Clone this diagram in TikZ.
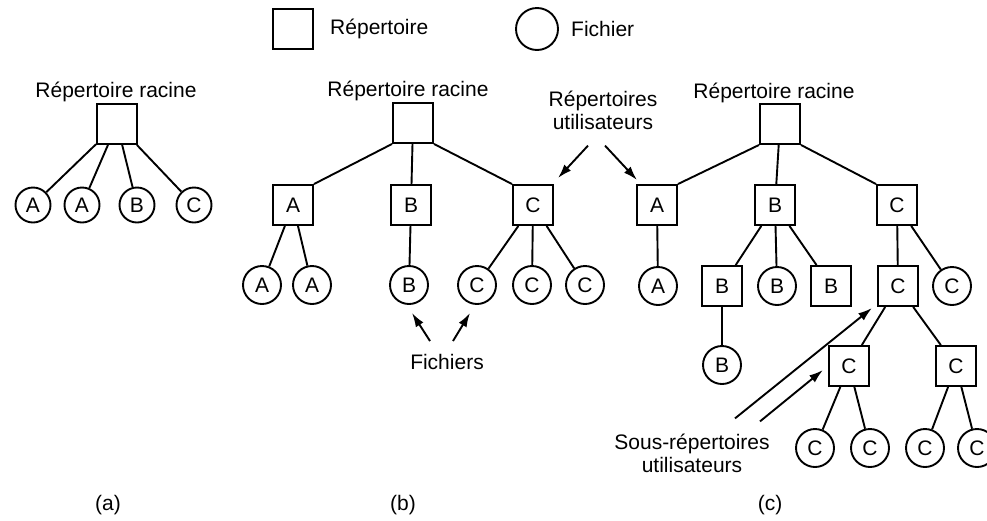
\documentclass[tikz,border=0pt]{standalone}
\usepackage{fontspec}
\setmainfont{Liberation Sans}
\usetikzlibrary{arrows.meta,positioning}

\begin{document}
\begin{tikzpicture}[x=1pt,y=-1pt,line width=1.9pt,
 font=\fontsize{21}{23}\selectfont,
 rep/.style={draw,minimum size=40pt,inner sep=0pt},
 fic/.style={draw,circle,minimum size=38pt,inner sep=0pt},
 ptr/.style={-{Latex[length=14pt,width=9pt]}}]
 \useasboundingbox (0,0) rectangle (987,520);
 % legend
 \node[rep] (lrep) at (293,29) {};
 \node[right=12pt of lrep] (lreptxt) {Répertoire};
 \node[fic,minimum size=42pt] (lfic) at (537,29) {};
 \node[right=8pt of lfic] (lfictxt) {Fichier};
 % (a) one level
 \node (rra) at (116,92) {Répertoire racine};
 \node[rep] (ra) at (117,124) {};
 \node[fic,minimum size=35pt] (ra1) at (33,205) {A};
 \node[fic,minimum size=35pt] (ra2) at (82,205) {A};
 \node[fic,minimum size=35pt] (ra3) at (137,205) {B};
 \node[fic,minimum size=35pt] (ra4) at (194,205) {C};
 \foreach \n in {ra1,ra2,ra3,ra4} \draw (ra)--(\n);
 \node (capa) at (108,505) {(a)};
 % (b) two levels
 \node (rrb) at (408,91) {Répertoire racine};
 \node[rep] (rb) at (413,123) {};
 \node[rep] (bA) at (293,205) {A};
 \node[rep] (bB) at (411,205) {B};
 \node[rep] (bC) at (533,205) {C};
 \node[fic] (bA1) at (262,285) {A};
 \node[fic] (bA2) at (312,285) {A};
 \node[fic] (bB1) at (409,285) {B};
 \node[fic] (bC1) at (477,285) {C};
 \node[fic] (bC2) at (532,285) {C};
 \node[fic] (bC3) at (585,285) {C};
 \draw (rb.south west)--(bA.north east); \draw (rb)--(bB);
 \draw (rb.south east)--(bC.north west);
 \draw (bA)--(bA1); \draw (bA)--(bA2); \draw (bB)--(bB1);
 \draw (bC)--(bC1); \draw (bC)--(bC2); \draw (bC)--(bC3);
 \node (fich) at (447,362) {Fichiers};
 \coordinate (fb) at (412,313);
 \coordinate (fc) at (470,313);
 \draw[ptr] ([xshift=-17pt,yshift=9pt]fich.north)--(fb);
 \draw[ptr] ([xshift=6pt,yshift=9pt]fich.north)--(fc);
 \node (capb) at (403,505) {(b)};
 % user directories
 \node[align=center] (util) at (603,110) {Répertoires\\utilisateurs};
 \coordinate (ub) at (558,178);
 \coordinate (uc) at (637,180);
 \draw[ptr] ([xshift=-15pt,yshift=-12pt]util.south)--(ub);
 \draw[ptr] ([xshift=2pt,yshift=-12pt]util.south)--(uc);
 % (c) arbitrary tree
 \node (rrc) at (774,93) {Répertoire racine};
 \node[rep] (rc) at (780,124) {};
 \node[rep] (cA) at (657,205) {A};
 \node[rep] (cB) at (775,205) {B};
 \node[rep] (cC) at (897,205) {C};
 \node[fic] (cA1) at (658,286) {A};
 \node[rep] (cB1) at (722,286) {B};
 \node[fic] (cB2) at (777,286) {B};
 \node[rep] (cB3) at (831,286) {B};
 \node[rep] (cC1) at (898,286) {C};
 \node[fic] (cC2) at (952,286) {C};
 \node[fic] (cB1a) at (722,365) {B};
 \node[rep] (cC1a) at (849,366) {C};
 \node[rep] (cC1b) at (956,366) {C};
 \node[fic] (cC1a1) at (815,448) {C};
 \node[fic] (cC1a2) at (870,448) {C};
 \node[fic] (cC1b1) at (925,448) {C};
 \node[fic] (cC1b2) at (977,448) {C};
 \draw (rc.south west)--(cA.north east); \draw (rc)--(cB);
 \draw (rc.south east)--(cC.north west);
 \draw (cA)--(cA1);
 \draw (cB)--(cB1); \draw (cB)--(cB2); \draw (cB)--(cB3);
 \draw (cC)--(cC1); \draw (cC)--(cC2);
 \draw (cB1)--(cB1a);
 \draw (cC1)--(cC1a); \draw (cC1)--(cC1b);
 \draw (cC1a)--(cC1a1); \draw (cC1a)--(cC1a2);
 \draw (cC1b)--(cC1b1); \draw (cC1b)--(cC1b2);
 \node[align=center] (sous) at (692,453) {Sous-répertoires\\utilisateurs};
 \coordinate (sc1) at (872,308);
 \coordinate (sc2) at (823,370);
 \draw[ptr] ([xshift=43pt,yshift=11pt]sous.north)--(sc1);
 \draw[ptr] ([xshift=68pt,yshift=8pt]sous.north)--(sc2);
 \node (capc) at (770,505) {(c)};
\end{tikzpicture}
\end{document}
